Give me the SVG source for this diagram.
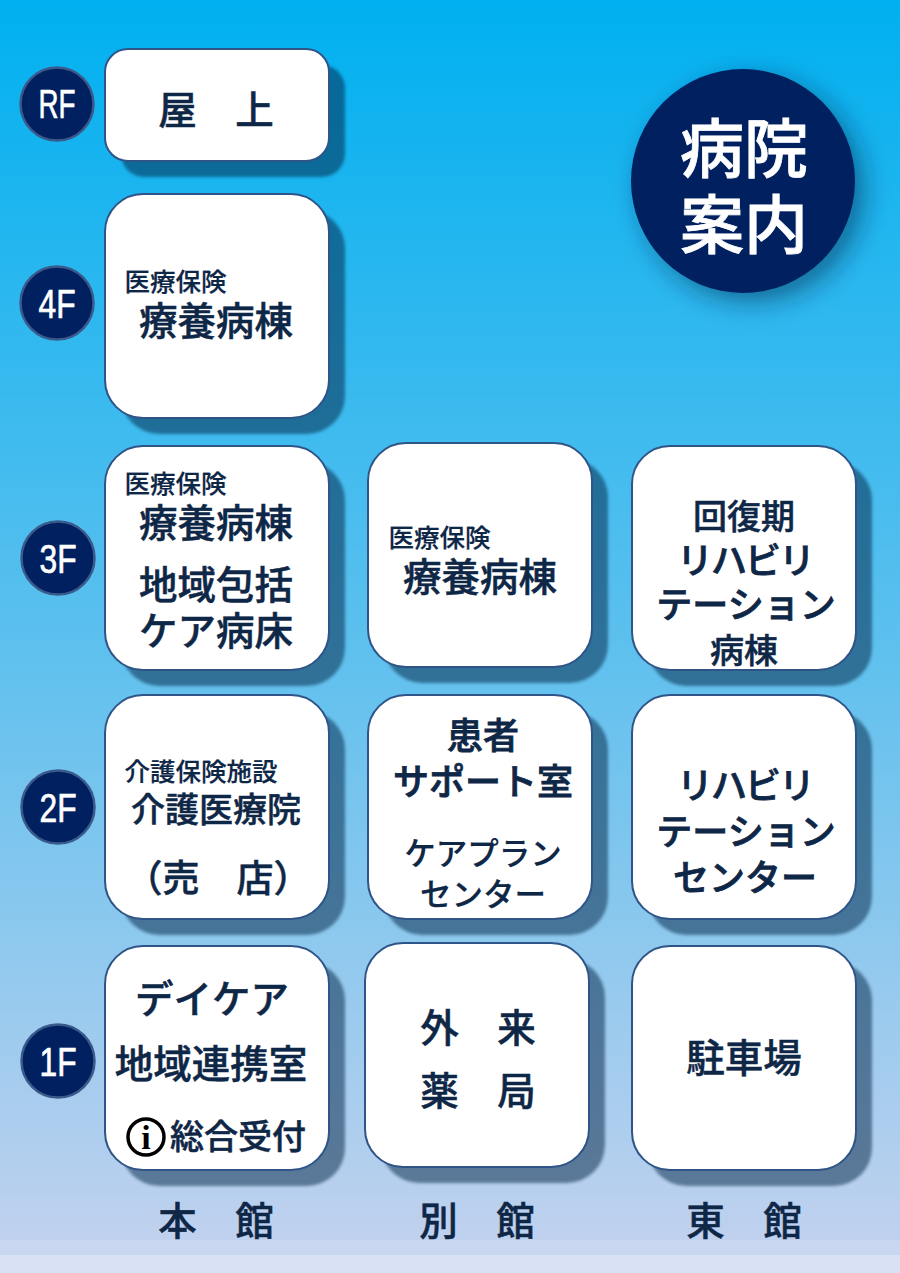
<svg xmlns="http://www.w3.org/2000/svg" width="900" height="1273" viewBox="0 0 900 1273">
<style>
.b{fill:#fff;stroke:#2f5488;stroke-width:2}
.s{fill:#002040;fill-opacity:.5;filter:url(#bl)}
.f{fill:#002060;stroke:#3b5a8c;stroke-width:2.5}
.fl{font-family:"Liberation Sans",sans-serif;font-size:40px;font-weight:400;fill:#fff;stroke:#fff;stroke-width:.7;text-anchor:middle}
text{font-family:"Noto Sans CJK JP",sans-serif}
.t,.k,.c,.m{fill:#0f2747;stroke:#0f2747;stroke-width:.5;font-weight:500;text-anchor:middle}
.t{font-size:38.5px}
.k{font-size:34px}
.c{font-size:36px;stroke-width:.8}
.m{font-size:31.5px;stroke-width:.2}
.n{fill:#0f2747;stroke:#0f2747;stroke-width:.2;font-weight:500;font-size:25.5px;text-anchor:start}
.h{fill:#fff;stroke:#fff;stroke-width:.8;font-weight:500;font-size:64px;text-anchor:middle}
</style>
<defs>
<linearGradient id="bg" x1="0" y1="0" x2="0" y2="1"><stop offset="0" stop-color="#00b0f0"/><stop offset=".5" stop-color="#5cc0ee"/><stop offset="1" stop-color="#c5d2ee"/></linearGradient>
<filter id="bl" x="-10%" y="-10%" width="120%" height="120%"><feGaussianBlur stdDeviation="1.5"/></filter>
<filter id="bl2" x="-30%" y="-30%" width="160%" height="160%"><feGaussianBlur stdDeviation="13"/></filter>
</defs>
<rect width="900" height="1273" fill="url(#bg)"/>
<rect y="1240" width="900" height="15" fill="#c9d6ef"/>
<rect y="1255" width="900" height="18" fill="#d8e2f4"/>
<g id="title"><circle cx="752" cy="190" r="112" fill="#002040" fill-opacity=".5" filter="url(#bl2)"/><circle cx="743" cy="181" r="112" fill="#002060"/><text class="h" x="744" y="172">病院</text><text class="h" x="744" y="248">案内</text></g>
<g id="floor-rf"><circle class="f" cx="57" cy="104" r="36.5"/><text class="fl" x="57" y="118" textLength="37" lengthAdjust="spacingAndGlyphs">RF</text></g>
<g id="floor-4f"><circle class="f" cx="57" cy="303" r="36.5"/><text class="fl" x="57" y="318" textLength="37" lengthAdjust="spacingAndGlyphs">4F</text></g>
<g id="floor-3f"><circle class="f" cx="58" cy="558" r="36.5"/><text class="fl" x="58" y="573" textLength="37" lengthAdjust="spacingAndGlyphs">3F</text></g>
<g id="floor-2f"><circle class="f" cx="58" cy="807" r="36.5"/><text class="fl" x="58" y="822" textLength="37" lengthAdjust="spacingAndGlyphs">2F</text></g>
<g id="floor-1f"><circle class="f" cx="58" cy="1061" r="36.5"/><text class="fl" x="58" y="1076" textLength="37" lengthAdjust="spacingAndGlyphs">1F</text></g>
<g id="main-rf"><rect class="s" x="121" y="65" width="224" height="112" rx="23"/><rect class="b" x="105" y="49" width="224" height="112" rx="23"/><text class="t" x="216" y="124">屋　上</text></g>
<g id="main-4f"><rect class="s" x="121" y="210" width="224" height="224" rx="38"/><rect class="b" x="105" y="194" width="224" height="224" rx="38"/><text class="n" x="124.5" y="291">医療保険</text><text class="t" x="216" y="335">療養病棟</text></g>
<g id="main-3f"><rect class="s" x="121" y="462" width="224" height="224" rx="38"/><rect class="b" x="105" y="446" width="224" height="224" rx="38"/><text class="n" x="124.5" y="493">医療保険</text><text class="t" x="216" y="537">療養病棟</text><text class="t" x="216" y="599">地域包括</text><text class="t" x="216" y="645">ケア病床</text></g>
<g id="annex-3f"><rect class="s" x="384" y="459" width="224" height="224" rx="38"/><rect class="b" x="368" y="443" width="224" height="224" rx="38"/><text class="n" x="388.5" y="547">医療保険</text><text class="t" x="480" y="591">療養病棟</text></g>
<g id="east-3f"><rect class="s" x="648" y="462" width="224" height="224" rx="38"/><rect class="b" x="632" y="446" width="224" height="224" rx="38"/><text class="k" x="744" y="529">回復期</text><text class="c" x="745" y="574" letter-spacing="-2">リハビリ</text><text class="c" x="746" y="618">テーション</text><text class="k" x="744" y="663">病棟</text></g>
<g id="main-2f"><rect class="s" x="121" y="711" width="224" height="224" rx="38"/><rect class="b" x="105" y="695" width="224" height="224" rx="38"/><text class="n" x="124.5" y="781">介護保険施設</text><text class="k" x="216" y="822">介護医療院</text><text class="t" x="218" y="892" style="font-size:37px">（売　店）</text></g>
<g id="annex-2f"><rect class="s" x="384" y="711" width="224" height="224" rx="38"/><rect class="b" x="368" y="695" width="224" height="224" rx="38"/><text class="c" x="483" y="749">患者</text><text class="c" x="483" y="795">サポート室</text><text class="m" x="483" y="865">ケアプラン</text><text class="m" x="483" y="906">センター</text></g>
<g id="east-2f"><rect class="s" x="648" y="711" width="224" height="224" rx="38"/><rect class="b" x="632" y="695" width="224" height="224" rx="38"/><text class="c" x="745" y="799" letter-spacing="-2">リハビリ</text><text class="c" x="746" y="845">テーション</text><text class="c" x="745" y="891">センター</text></g>
<g id="main-1f"><rect class="s" x="121" y="962" width="224" height="224" rx="38"/><rect class="b" x="105" y="946" width="224" height="224" rx="38"/><text class="t" x="212" y="1013">デイケア</text><text class="t" x="211" y="1078">地域連携室</text><circle cx="146" cy="1137" r="18" fill="#fff" stroke="#000" stroke-width="3.5"/><text x="146" y="1149" style="font-family:'Liberation Serif',serif;font-weight:700;font-size:34px;text-anchor:middle">i</text><text class="k" x="238" y="1149">総合受付</text></g>
<g id="annex-1f"><rect class="s" x="381" y="959" width="224" height="224" rx="38"/><rect class="b" x="365" y="943" width="224" height="224" rx="38"/><text class="t" x="478" y="1042">外　来</text><text class="t" x="478" y="1105">薬　局</text></g>
<g id="east-1f"><rect class="s" x="648" y="962" width="224" height="224" rx="38"/><rect class="b" x="632" y="946" width="224" height="224" rx="38"/><text class="t" x="744" y="1072">駐車場</text></g>
<g id="columns"><text class="t" x="216" y="1235">本　館</text><text class="t" x="477" y="1235">別　館</text><text class="t" x="744" y="1235">東　館</text></g>
</svg>
